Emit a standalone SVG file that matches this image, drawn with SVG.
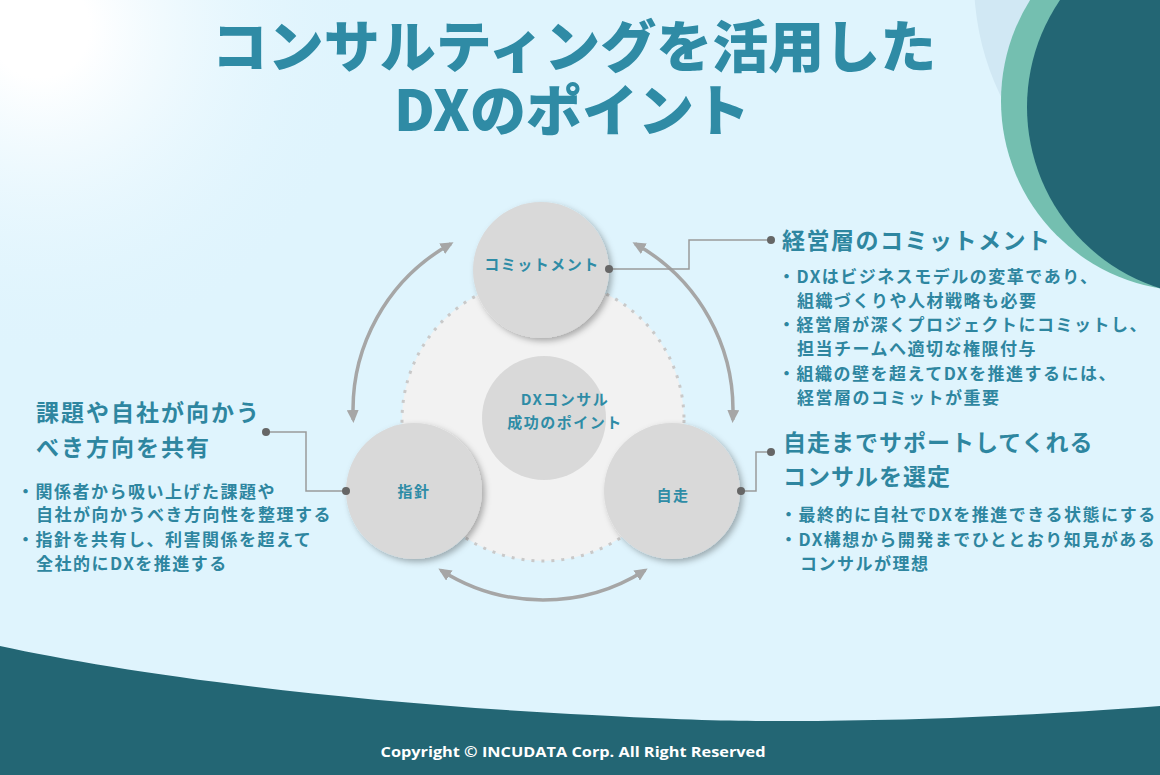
<svg xmlns="http://www.w3.org/2000/svg" width="1160" height="775" viewBox="0 0 1160 775">
  <defs>
    <radialGradient id="glow" cx="40" cy="28" r="330" gradientUnits="userSpaceOnUse">
      <stop offset="0" stop-color="#ffffff"/>
      <stop offset="0.15" stop-color="#ffffff"/>
      <stop offset="1" stop-color="#dff4fd" stop-opacity="0"/>
    </radialGradient>
    <filter id="shadow" x="-20%" y="-20%" width="150%" height="150%">
      <feDropShadow dx="3" dy="3" stdDeviation="3" flood-color="#000" flood-opacity="0.3"/>
    </filter>
    <marker id="ah" markerUnits="userSpaceOnUse" markerWidth="14" markerHeight="12" refX="10" refY="6" orient="auto-start-reverse">
      <path d="M0,0 L13,6 L0,12 z" fill="#a6a6a6"/>
    </marker>
    <style>
      .jp { font-family: "Noto Sans CJK JP", "Noto Sans", sans-serif; }
      .title { font-size: 56px; font-weight: 900; fill: #2f8ba5; text-anchor: middle; }
      .head { font-size: 23px; font-weight: 700; fill: #2e86a0; letter-spacing: 1.5px; }
      .head.wide { letter-spacing: 2px; }
      .head.narrow { letter-spacing: 1px; }
      .body { font-size: 17px; font-weight: 700; fill: #2e86a0; letter-spacing: 1.5px; }
      .node-label { font-size: 15px; font-weight: 700; fill: #2e8ca6; text-anchor: middle; letter-spacing: 1.5px; }
      .node-circle { fill: #d9d9d9; filter: url(#shadow); }
      .arc { fill: none; stroke: #a6a6a6; stroke-width: 3.5; marker-start: url(#ah); marker-end: url(#ah); }
      .conn { fill: none; stroke: #9a9a9a; stroke-width: 1.5; }
      .dot { fill: #666666; }
    </style>
  </defs>

  <!-- background -->
  <rect x="0" y="0" width="1160" height="775" fill="#dff4fd"/>
  <rect x="0" y="0" width="1160" height="775" fill="url(#glow)"/>
  <circle cx="1240" cy="-20" r="266" fill="#d1e8f4"/>
  <circle cx="1191" cy="101" r="190" fill="#74bfb0"/>
  <circle cx="1217" cy="107" r="190" fill="#236674"/>
  <path d="M0,646 C120,672 330,702 592,715 C680,720 730,721 777,721 C880,721 1000,718 1160,706 L1160,775 L0,775 Z" fill="#236674"/>

  <!-- title -->
  <g id="title" class="jp">
    <text class="title" x="574" y="67">コンサルティングを活用した</text>
    <text class="title" x="572" y="131">DXのポイント</text>
  </g>

  <!-- background ring -->
  <g id="core-area">
    <circle cx="543" cy="420" r="141" fill="#f2f2f2" stroke="#c9c9c9" stroke-width="3" stroke-dasharray="3 7"/>
  </g>

  <!-- connectors -->
  <g id="connectors">
    <path class="arc" d="M353.3,419.9 A190,190 0 0 1 450.9,243.8"/>
    <path class="arc" d="M635.1,243.8 A190,190 0 0 1 732.7,419.9"/>
    <path class="arc" d="M645.1,570.2 A190,190 0 0 1 440.9,570.2"/>
    <path class="conn" d="M609,269 H689 V240 H771"/>
    <path class="conn" d="M346,491 H306 V432 H266"/>
    <path class="conn" d="M741,491 H756 V452 H771"/>
  </g>

  <g id="node-center">
    <circle cx="544" cy="418" r="62" fill="#d9d9d9"/>
    <text class="jp node-label" x="565" y="405">DXコンサル</text>
    <text class="jp node-label" x="565" y="428">成功のポイント</text>
  </g>

  <g id="node-commit">
    <circle class="node-circle" cx="541" cy="270" r="68"/>
    <text class="jp node-label" x="542" y="270">コミットメント</text>
  </g>

  <g id="node-shishin">
    <circle class="node-circle" cx="414" cy="491" r="68"/>
    <text class="jp node-label" x="414" y="497">指針</text>
  </g>

  <g id="node-jisou">
    <circle class="node-circle" cx="672" cy="491" r="68"/>
    <text class="jp node-label" x="673" y="501">自走</text>
  </g>

  <g id="dots">
    <circle class="dot" cx="609" cy="269" r="4"/>
    <circle class="dot" cx="771" cy="240" r="4"/>
    <circle class="dot" cx="346" cy="491" r="4"/>
    <circle class="dot" cx="266" cy="432" r="4"/>
    <circle class="dot" cx="741" cy="491" r="4"/>
    <circle class="dot" cx="771" cy="452" r="4"/>
  </g>

  <!-- right top text -->
  <g id="text-commit" class="jp">
    <text class="head" x="782" y="249">経営層のコミットメント</text>
    <text class="body" x="778" y="283">・DXはビジネスモデルの変革であり、</text>
    <text class="body" x="797" y="307">組織づくりや人材戦略も必要</text>
    <text class="body" x="778" y="331">・経営層が深くプロジェクトにコミットし、</text>
    <text class="body" x="797" y="355">担当チームへ適切な権限付与</text>
    <text class="body" x="778" y="380">・組織の壁を超えてDXを推進するには、</text>
    <text class="body" x="797" y="404">経営層のコミットが重要</text>
  </g>

  <!-- left text -->
  <g id="text-shishin" class="jp">
    <text class="head wide" x="36" y="421">課題や自社が向かう</text>
    <text class="head wide" x="36" y="456">べき方向を共有</text>
    <text class="body" x="17" y="498">・関係者から吸い上げた課題や</text>
    <text class="body" x="36" y="521">自社が向かうべき方向性を整理する</text>
    <text class="body" x="17" y="546">・指針を共有し、利害関係を超えて</text>
    <text class="body" x="36" y="570">全社的にDXを推進する</text>
  </g>

  <!-- right bottom text -->
  <g id="text-jisou" class="jp">
    <text class="head narrow" x="783" y="451">自走までサポートしてくれる</text>
    <text class="head narrow" x="783" y="485">コンサルを選定</text>
    <text class="body" x="780" y="521">・最終的に自社でDXを推進できる状態にする</text>
    <text class="body" x="780" y="546">・DX構想から開発までひととおり知見がある</text>
    <text class="body" x="800" y="570">コンサルが理想</text>
  </g>

  <g id="footer">
    <text x="573" y="757" fill="#ffffff" font-family="'Open Sans', 'Liberation Sans', sans-serif" font-size="15" font-weight="700" text-anchor="middle" textLength="385" lengthAdjust="spacingAndGlyphs">Copyright © INCUDATA Corp. All Right Reserved</text>
  </g>
</svg>
